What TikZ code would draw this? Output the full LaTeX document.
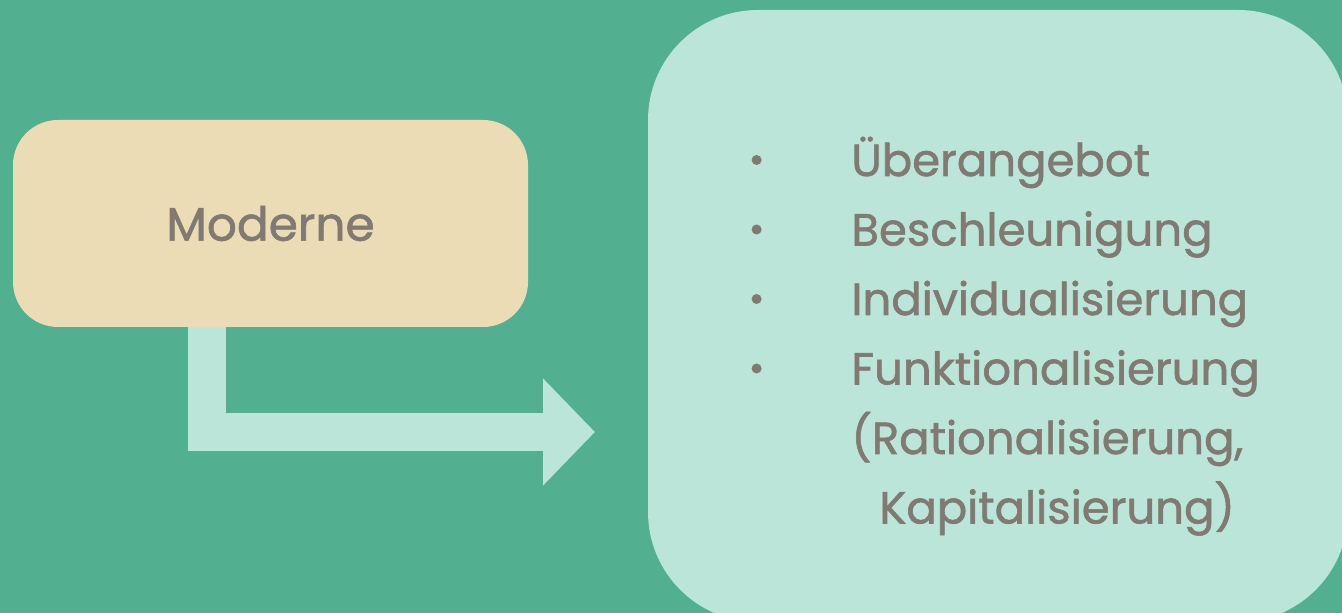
\documentclass[tikz,border=0pt]{standalone}
\usepackage{fontspec}
\setmainfont{Poppins}
\newfontfamily\medfont{Poppins}[FakeBold=1.3]
\usetikzlibrary{positioning,arrows.meta}
\definecolor{bggreen}{HTML}{52AF90}
\definecolor{sand}{HTML}{ECDCB5}
\definecolor{mint}{HTML}{BBE5D8}
\definecolor{textgray}{HTML}{807A73}
\tikzset{
  sandbox/.style={fill=sand,rounded corners=22.5pt,minimum width=257.5pt,minimum height=103.5pt,
    text=textgray,font=\medfont\fontsize{23.5}{27}\selectfont},
  mintbox/.style={fill=mint,rounded corners=55pt,minimum width=350pt,minimum height=306pt},
  item/.style={anchor=base west,inner sep=0pt,text=textgray,font=\medfont\fontsize{22.5}{27}\selectfont},
  dot/.style={circle,fill=textgray,inner sep=0pt,minimum size=5pt}
}
\begin{document}
\begin{tikzpicture}[x=0.5pt,y=-0.5pt]
            \useasboundingbox (0,0) rectangle (1342,613);
            \fill[bggreen] (0,0) rectangle (1342,613);
            \clip (0,0) rectangle (1342,613);
            \node[mintbox] (liste) at (998,316) {};
            \node[sandbox] (moderne) at (270.5,223.5) {Moderne};
            \coordinate (tip) at (595,432);
            \draw[mint,line width=19pt,line join=miter,-{Triangle[length=26pt,width=52pt]}]
                ([xshift=-31.75pt]moderne.south) |- (tip);
            \node[item] (ueber) at (851,176) {Überangebot};
            \node[item] (beschl)[below=34.75pt of ueber.base west,anchor=base west] {Beschleunigung};
            \node[item] (indiv)[below=34.75pt of beschl.base west,anchor=base west] {Individualisierung};
            \node[item] (funkt)[below=34.75pt of indiv.base west,anchor=base west] {Funktionalisierung};
            \node[item] (ratio)[below=34.75pt of funkt.base west,anchor=base west] {(Rationalisierung,};
            \node[item] (kapit)[below=34.75pt of ratio.base west,anchor=base west,xshift=14pt] {Kapitalisierung)};
            \node[dot,left=44.5pt of ueber.base west,yshift=8pt] (d1) {};
            \node[dot,left=44.5pt of beschl.base west,yshift=8pt] (d2) {};
            \node[dot,left=44.5pt of indiv.base west,yshift=8pt] (d3) {};
            \node[dot,left=44.5pt of funkt.base west,yshift=8pt] (d4) {};
\end{tikzpicture}
\end{document}
